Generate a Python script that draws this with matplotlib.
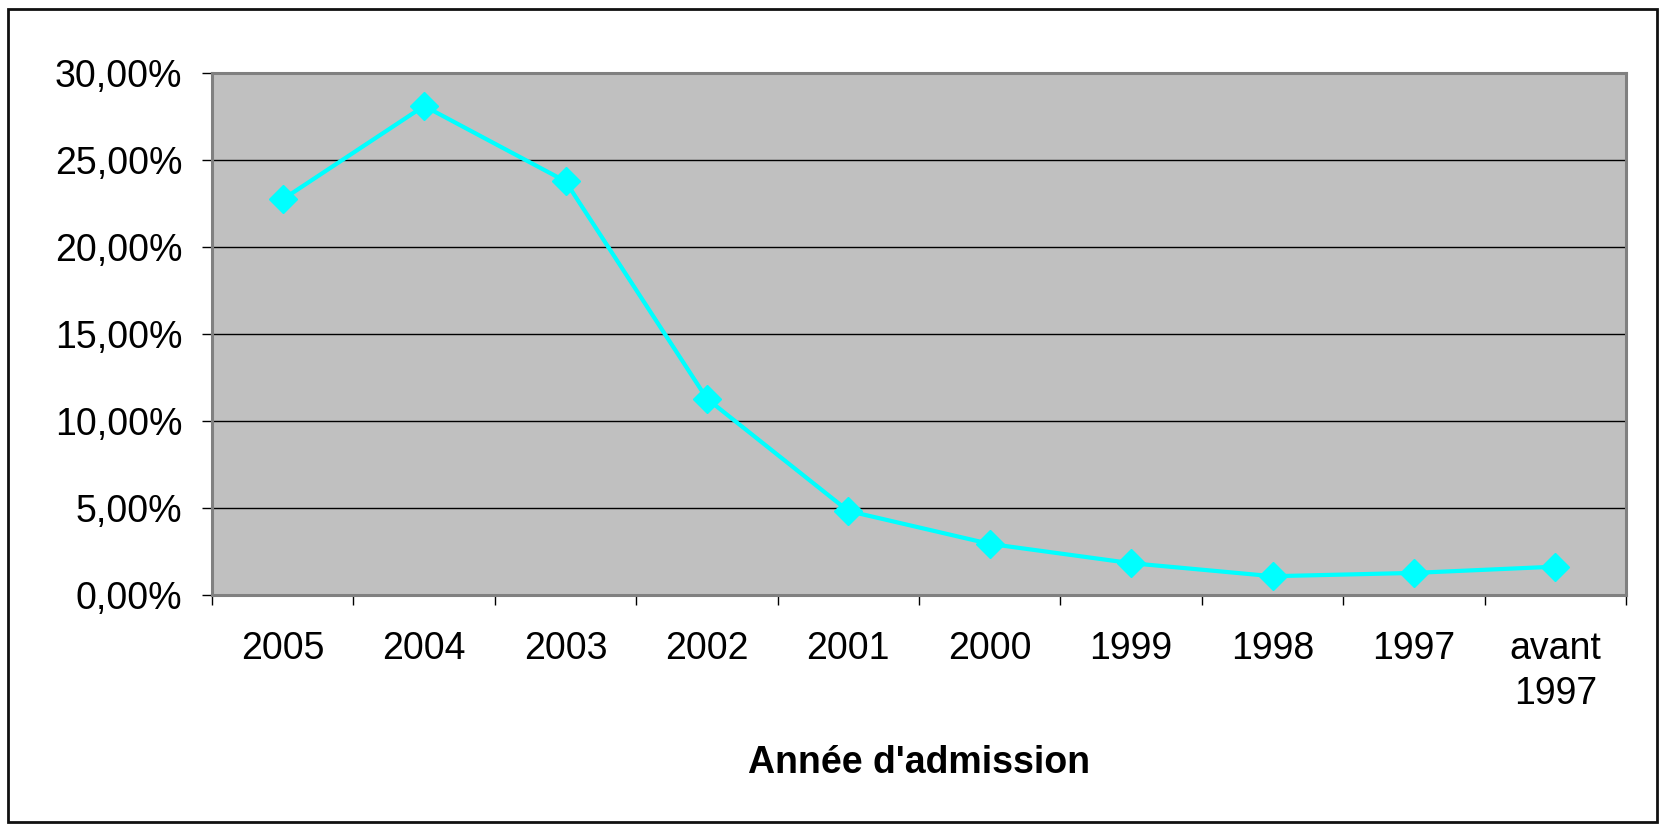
import matplotlib.pyplot as plt
from matplotlib.patches import Rectangle
from matplotlib.ticker import FuncFormatter

plt.rcParams['font.family'] = ['Liberation Sans', 'DejaVu Sans']

# data
years = ['2005', '2004', '2003', '2002', '2001', '2000', '1999', '1998', '1997', 'avant\n1997']
share = [22.75, 28.12, 23.79, 11.29, 4.83, 2.94, 1.83, 1.08, 1.27, 1.63]
yticks = [0, 5, 10, 15, 20, 25, 30]

fig = plt.figure(figsize=(16.62, 8.30), dpi=100)
ax = fig.add_axes([212 / 1662, 1 - 595 / 830, 1414 / 1662, 521.7 / 830])

# outer chart border
fig.patches.append(Rectangle((8 / 1662, 1 - 822 / 830), 1649 / 1662, 813 / 830,
                             transform=fig.transFigure, fill=False,
                             edgecolor='#111111', linewidth=2))

ax.set_facecolor('#C0C0C0')
for s in ax.spines.values():
    s.set_color('#808080')
    s.set_linewidth(2.2)

x = list(range(len(years)))
ax.plot(x, share, color='#00FFFF', linewidth=3, marker='D', markersize=14,
        markerfacecolor='#00FFFF', markeredgecolor='#00FFFF', zorder=3)

ax.set_xlim(-0.5, len(years) - 0.5)
ax.set_ylim(0, 30)
ax.set_yticks(yticks)
ax.yaxis.set_major_formatter(FuncFormatter(lambda v, p: ('%.2f%%' % v).replace('.', ',')))
ax.grid(axis='y', color='black', linewidth=1)
ax.set_axisbelow(True)

# category labels centered, ticks between categories
ax.set_xticks(x)
ax.set_xticklabels(years, fontsize=27, linespacing=1.3)
ax.set_xticks([i - 0.5 for i in range(len(years) + 1)], minor=True)
ax.tick_params(axis='x', which='major', length=0, pad=26)
ax.tick_params(axis='x', which='minor', direction='out', length=7.5, width=1, color='black')
ax.tick_params(axis='y', direction='out', length=7.5, width=1, color='black', labelsize=27, pad=14)

ax.set_xlabel("Année d'admission", fontsize=27, fontweight='bold', labelpad=24)

fig.savefig('out.png', dpi=100)
